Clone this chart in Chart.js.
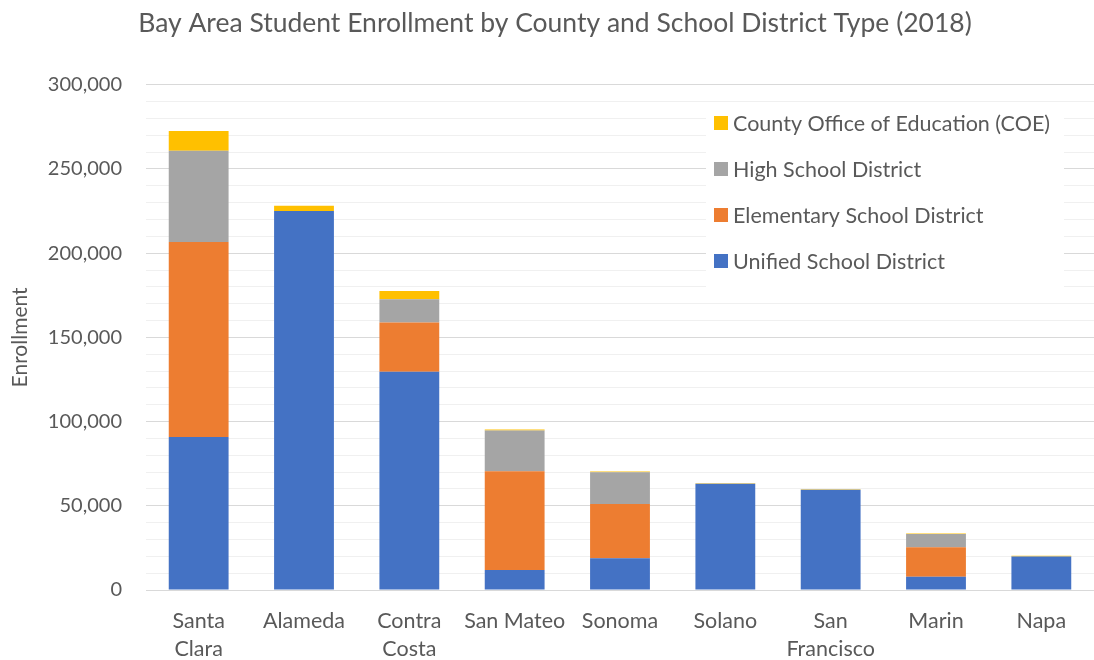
<!DOCTYPE html>
<html>
<head>
<meta charset="utf-8">
<script src="https://cdn.jsdelivr.net/npm/chart.js@4/dist/chart.umd.min.js"></script>
<style>
  body { margin: 0; background: #fff; }
  #wrap { width: 1094px; height: 660px; overflow: hidden; }
</style>
</head>
<body>
<div id="wrap"><canvas id="enrollChart" width="1094" height="660"></canvas></div>
<script>
// counties, x axis (multi-line labels as in the original)
const counties = [["Santa", "Clara"], "Alameda", ["Contra", "Costa"], "San Mateo", "Sonoma", "Solano", ["San", "Francisco"], "Marin", "Napa"];

// enrollment per district type
const unified    = [90800, 225000, 129600, 11900, 18900, 63100, 59600, 7900, 19900];
const elementary = [115900, 0, 29300, 58600, 32200, 0, 0, 17500, 0];
const highSchool = [54100, 0, 13700, 24200, 18800, 0, 0, 7800, 0];
const coe        = [11800, 3200, 5000, 600, 500, 300, 300, 400, 400];

const yTicks = [0, 50000, 100000, 150000, 200000, 250000, 300000];

const textColor = "#595959";
const fontFamily = "Lato, 'Open Sans', sans-serif";

// legend drawn inside the plot area, top right, like the Excel one
const insideLegend = {
  id: "insideLegend",
  afterDatasetsDraw(chart) {
    const ctx = chart.ctx;
    const items = chart.data.datasets.slice().reverse();
    const x = 706, y0 = 105, rowH = 46;
    ctx.save();
    ctx.fillStyle = "#ffffff";
    ctx.fillRect(x, y0, 358, rowH * items.length);
    ctx.font = "21.5px " + fontFamily;
    ctx.textBaseline = "middle";
    items.forEach(function (ds, i) {
      const cy = y0 + 18 + i * rowH;
      ctx.fillStyle = ds.backgroundColor;
      ctx.fillRect(x + 8, cy - 7, 14, 14);
      ctx.fillStyle = textColor;
      ctx.fillText(ds.label, x + 27, cy + 1);
    });
    ctx.restore();
  }
};

const ctx = document.getElementById("enrollChart").getContext("2d");
const enrollChart = new Chart(ctx, {
  type: "bar",
  data: {
    labels: counties,
    datasets: [
      { label: "Unified School District", data: unified, backgroundColor: "#4472C4" },
      { label: "Elementary School District", data: elementary, backgroundColor: "#ED7D31" },
      { label: "High School District", data: highSchool, backgroundColor: "#A5A5A5" },
      { label: "County Office of Education (COE)", data: coe, backgroundColor: "#FFC000" },
    ],
  },
  options: {
    responsive: false,
    animation: false,
    devicePixelRatio: 1,
    layout: { padding: { left: 8, right: -8, top: 0, bottom: 3 } },
    datasets: {
      bar: { categoryPercentage: 1, barPercentage: 0.568, borderWidth: 0 },
    },
    plugins: {
      legend: { display: false },
      tooltip: { enabled: false },
      title: {
        display: true,
        text: "Bay Area Student Enrollment by County and School District Type (2018)",
        color: textColor,
        font: { family: fontFamily, size: 26.5, weight: "normal", lineHeight: 1.2 },
        padding: { top: 8, bottom: 45 },
      },
    },
    scales: {
      x: {
        stacked: true,
        grid: { display: false },
        border: { color: "#d9d9d9", width: 1 },
        ticks: {
          color: textColor,
          font: { family: fontFamily, size: 21.5, lineHeight: 1.3 },
          maxRotation: 0,
          autoSkip: false,
          padding: 9,
        },
        afterFit: function (scale) { scale.height = 67; },
      },
      y: {
        stacked: true,
        min: 0,
        max: 300000,
        border: { display: false },
        title: {
          display: true,
          text: "Enrollment",
          color: textColor,
          font: { family: fontFamily, size: 21 },
          padding: { top: 0, bottom: 8 },
        },
        grid: {
          color: function (c) {
            return yTicks.includes(c.tick.value) ? "#d9d9d9" : "#f0f0f0";
          },
          lineWidth: 1,
          drawTicks: false,
        },
        ticks: {
          stepSize: 10000,
          autoSkip: false,
          color: textColor,
          font: { family: fontFamily, size: 20 },
          padding: 24,
          callback: function (v) {
            return yTicks.includes(v) ? v.toLocaleString("en-US") : "";
          },
        },
        afterFit: function (scale) { scale.width = 138; },
      },
    },
  },
  plugins: [insideLegend],
});
</script>
</body>
</html>
